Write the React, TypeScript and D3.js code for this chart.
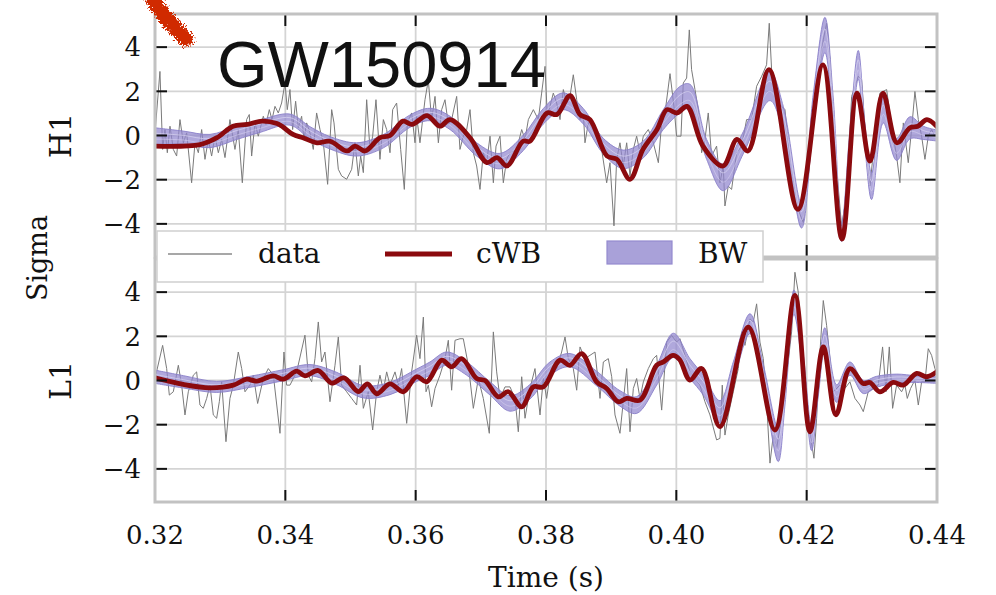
import React from "react";
import * as d3 from "d3";

// time in ms, sigma values
const TIME_TICKS = [320, 340, 360, 380, 400, 420, 440];
const SIGMA_TICKS = [-4, -2, 0, 2, 4];
const X_DOMAIN: [number, number] = [320, 440];
const Y_DOMAIN: [number, number] = [-5.5, 5.5];
const DETECTORS = ["H1", "L1"];
const LEGEND_LABELS = ["data", "cWB", "BW"];
const TITLE = "GW150914";

const H1_DATA: [number, number][] = [
  [320.0, 0.12],[320.76, 2.9],[321.17, -0.63],[321.53, 0.27],[321.89, -0.78],[322.3, 0.42],[322.81, -0.63],[323.32, -0.93],[323.83, 0.72],[324.35, -0.33],[324.86, 0.12],[325.62, -2.14],[326.14, -0.33],[326.65, -0.78],[327.16, 0.27],[327.67, -1.08],[328.18, -0.18],[328.69, -0.93],[329.2, -0.03],[329.72, -0.78],[330.23, -0.18],[330.74, -1.0],[331.5, 0.72],[332.27, -0.63],[332.78, 0.27],[333.4, -2.14],[334.06, 0.72],[334.47, 0.95],[334.83, -0.93],[335.34, 0.57],[335.85, -0.03],[336.62, 0.87],[337.03, 0.5],[337.54, 1.17],[337.95, 0.72],[338.41, 1.32],[338.92, 1.02],[339.43, 1.47],[339.95, 2.38],[340.3, 1.17],[340.71, 2.08],[341.12, 0.27],[341.58, 1.55],[341.99, 0.35],[342.5, 0.87],[342.86, -0.18],[343.27, 0.57],[343.78, 0.12],[344.29, -0.63],[344.8, 1.02],[345.32, 0.27],[345.83, -0.33],[346.49, -2.21],[347.11, 1.17],[347.47, 0.57],[348.13, -1.53],[348.64, -1.83],[349.41, -1.98],[350.18, -1.53],[350.69, -0.33],[351.2, -1.83],[351.56, -0.93],[351.97, -1.68],[352.48, 1.62],[352.99, -0.63],[353.4, -0.03],[353.91, 1.62],[354.52, -1.08],[355.04, 0.72],[355.55, 0.27],[356.06, -0.78],[356.47, 1.17],[357.08, 1.47],[357.7, -0.63],[358.26, -2.44],[358.72, 0.57],[359.38, 1.02],[359.9, -0.33],[360.15, 0.87],[360.66, -0.33],[361.43, 1.62],[361.94, 2.5],[362.45, 0.72],[362.97, 1.77],[363.48, -0.33],[363.99, 1.17],[364.5, 1.62],[365.01, 0.5],[365.52, 0.72],[366.29, 1.77],[366.8, -0.63],[367.31, -0.03],[367.83, 0.27],[368.34, 1.17],[368.85, -0.78],[369.36, -1.38],[369.87, -2.44],[370.38, -0.78],[370.89, -1.23],[371.41, -0.03],[371.92, -2.14],[372.33, -0.48],[372.94, -0.03],[373.45, -2.14],[373.96, -1.08],[374.48, -0.78],[375.5, -0.63],[376.27, 0.27],[376.78, -0.18],[377.29, 0.72],[378.06, 1.17],[378.82, 0.72],[379.33, 1.92],[379.85, 3.13],[380.2, 0.87],[380.61, 1.32],[381.12, 1.92],[381.64, 1.47],[382.15, 0.72],[382.66, 2.08],[383.17, 1.47],[383.68, 1.77],[384.19, 2.75],[384.71, 1.62],[385.22, 0.72],[385.73, 1.02],[385.98, -0.33],[386.5, 0.57],[387.01, 0.72],[387.77, -0.03],[388.54, -0.63],[389.31, -2.14],[389.82, -1.23],[390.43, -4.09],[390.84, -1.08],[391.35, -0.33],[391.86, -1.38],[392.38, -0.33],[392.89, -1.83],[393.4, -0.63],[393.91, -0.03],[394.42, -0.78],[394.94, -0.03],[395.7, 0.27],[396.47, -0.33],[397.24, -1.23],[397.75, 0.57],[398.26, 1.02],[399.03, 2.8],[399.63, 1.32],[400.04, -0.03],[400.71, -0.03],[401.07, 2.38],[401.58, 2.6],[401.99, 4.78],[402.34, 2.98],[402.86, 2.08],[403.37, 1.17],[403.88, -0.78],[404.39, -0.18],[404.9, 1.02],[405.41, -0.93],[406.18, -0.48],[406.69, -2.14],[407.2, -1.38],[407.46, -3.19],[407.97, -2.29],[408.48, -2.44],[409.25, -0.78],[410.02, -0.48],[410.78, 0.72],[411.55, 0.72],[412.32, 2.23],[413.09, 2.68],[413.85, 3.2],[414.26, 5.08],[414.62, 2.98],[415.13, 1.77],[415.9, 1.4],[416.67, 1.17],[417.43, -1.08],[418.46, -3.19],[419.48, -3.94],[420.25, -1.83],[421.53, 1.92],[422.55, 4.33],[423.06, 5.08],[423.57, 3.43],[424.6, -1.53],[425.36, -4.09],[426.13, -2.74],[426.9, 1.77],[427.92, 2.68],[428.43, 2.53],[429.2, -0.78],[429.71, -2.29],[430.48, -0.03],[431.24, 1.92],[432.27, 2.08],[433.03, 0.42],[433.8, -0.93],[434.31, -2.14],[434.83, 0.57],[435.59, -1.23],[436.1, 0.27],[436.61, 1.99],[437.13, 0.72],[437.64, -0.03],[438.15, -1.08],[438.66, -0.03],[439.17, 0.27],[439.68, -0.03],[440.0, 0.1],
];

const H1_CWB: [number, number][] = [
  [320.0, -0.48],[326.9, -0.41],[329.51, -0.1],[331.97, 0.42],[334.12, 0.5],[336.42, 0.65],[338.72, 0.54],[339.49, 0.42],[341.18, 0.05],[342.71, -0.1],[344.86, -0.33],[346.85, -0.26],[349.46, -0.7],[350.69, -0.48],[352.22, -0.7],[354.53, -0.1],[356.06, 0.0],[358.05, 0.65],[359.44, 0.5],[361.74, 0.9],[363.73, 0.42],[365.27, 0.72],[368.34, -0.1],[370.94, -1.23],[372.48, -1.0],[374.01, -1.38],[376.47, -0.26],[377.54, -0.26],[380.15, 1.02],[381.68, 0.95],[383.68, 1.8],[385.21, 0.95],[386.75, 0.72],[389.36, -0.93],[390.89, -1.08],[392.89, -1.98],[394.88, -0.63],[397.03, 0.27],[398.56, 1.17],[400.1, 1.02],[401.63, 1.32],[404.09, -0.48],[407.16, -1.38],[409.3, -0.18],[410.99, -0.7],[414.21, 2.98],[418.66, -3.34],[422.5, 3.2],[425.42, -4.69],[427.72, 1.92],[429.71, -1.16],[431.71, 1.92],[433.86, -0.33],[435.85, 0.35],[437.08, 0.42],[438.46, 0.72],[440.0, 0.4],
];

// [time, centre, half-width]
const H1_BW: [number, number, number][] = [
  [320.0, -0.03, 0.38],[324.35, -0.1, 0.3],[328.44, -0.25, 0.3],[332.53, 0.12, 0.3],[336.11, 0.42, 0.28],[340.71, 0.72, 0.25],[343.78, 0.12, 0.28],[346.85, -0.33, 0.28],[350.94, -0.63, 0.3],[355.04, -0.26, 0.3],[359.13, 0.65, 0.28],[362.2, 0.95, 0.28],[365.27, 0.57, 0.3],[369.36, -0.63, 0.3],[372.94, -1.16, 0.35],[376.52, -0.33, 0.35],[379.59, 0.87, 0.35],[382.66, 1.55, 0.38],[385.73, 0.87, 0.35],[388.8, -0.48, 0.35],[391.86, -1.08, 0.42],[394.94, -0.63, 0.38],[398.0, 0.72, 0.45],[400.55, 1.62, 0.6],[402.09, 1.77, 0.55],[404.65, -0.63, 0.45],[407.2, -1.9, 0.6],[410.27, -0.33, 0.5],[414.36, 2.23, 0.65],[416.41, 0.72, 0.6],[419.22, -3.64, 0.55],[421.01, 1.17, 0.7],[422.8, 4.55, 0.8],[424.08, 1.0, 0.7],[425.36, -4.4, 0.4],[426.64, -0.33, 0.6],[427.92, 3.2, 0.65],[428.94, 0.0, 0.55],[429.97, -2.3, 0.6],[431.76, 1.17, 0.6],[433.8, -0.63, 0.5],[435.85, 0.35, 0.5],[437.9, 0.12, 0.3],[440.0, 0.0, 0.25],
];

const L1_DATA: [number, number][] = [
  [320.0, 0.09],[321.17, 1.59],[321.79, 0.54],[322.2, -0.66],[322.81, -0.51],[323.58, 0.69],[324.09, -0.21],[324.6, -1.56],[325.11, -0.51],[325.88, 0.24],[326.39, 0.39],[326.9, -1.11],[327.41, -1.26],[327.93, -0.81],[328.44, -0.21],[328.95, -1.56],[329.46, -1.71],[329.87, -0.96],[330.23, -0.06],[330.89, -2.77],[331.5, -0.81],[332.02, -0.21],[332.78, 1.29],[333.3, 0.54],[333.81, -0.51],[334.57, -0.21],[335.09, 0.24],[335.75, -1.04],[336.62, 0.09],[337.39, 0.54],[338.16, 0.24],[339.18, -2.39],[339.79, 1.29],[340.2, -0.21],[340.71, -0.21],[341.74, 0.39],[343.01, 2.05],[343.53, 0.24],[344.04, -0.06],[344.55, 0.99],[345.06, 2.65],[345.57, 0.84],[346.08, 1.29],[346.85, -0.96],[347.62, 0.69],[348.13, 1.97],[348.64, -0.21],[349.41, -0.51],[350.18, -0.81],[350.94, -1.11],[351.46, 0.69],[351.97, -1.26],[352.73, -0.51],[353.4, -2.24],[354.01, -0.51],[354.52, 0.24],[355.04, -0.44],[355.55, 0.39],[356.06, -0.21],[356.83, 0.39],[357.34, -0.21],[357.85, 0.54],[358.62, -1.94],[359.38, 0.39],[360.15, 2.05],[360.66, 0.99],[361.18, 2.87],[361.59, -0.51],[361.94, -0.21],[362.45, -1.19],[362.97, -0.36],[363.73, 0.24],[364.5, 0.99],[365.01, 1.82],[365.52, -0.44],[366.04, 1.82],[366.8, 1.89],[367.31, 1.89],[368.08, 0.69],[368.85, -1.26],[369.62, 0.09],[370.38, -0.81],[371.3, -2.39],[371.92, 2.2],[372.43, 0.39],[372.94, -0.81],[373.71, -0.29],[374.48, -0.29],[375.24, -0.81],[375.75, -2.32],[376.27, 0.17],[376.78, -1.71],[377.54, -0.36],[378.31, 0.54],[379.08, -1.56],[379.59, 0.09],[380.1, -0.81],[380.61, 0.24],[381.64, 0.54],[382.4, 1.29],[382.92, 1.97],[383.43, 0.99],[384.19, 0.54],[384.71, -0.44],[385.22, 1.52],[385.98, 0.99],[386.75, 1.14],[387.52, 1.29],[388.29, -0.81],[388.8, 0.84],[389.56, 0.99],[390.08, 0.17],[390.59, -1.56],[391.35, -2.39],[391.86, -0.96],[392.38, 0.54],[392.89, -2.32],[393.4, -0.36],[393.91, 0.09],[394.42, -0.81],[394.94, -0.06],[395.7, 0.54],[396.47, 0.99],[396.98, 1.14],[397.75, -1.34],[398.52, 1.74],[399.28, 2.04],[400.04, 1.74],[400.55, 1.89],[401.32, 1.14],[402.09, 0.39],[402.86, 0.09],[403.62, -0.21],[404.39, -0.96],[405.16, -1.56],[406.18, -2.69],[406.69, -2.62],[407.05, -0.21],[407.46, -2.47],[407.97, -1.56],[408.74, -0.51],[409.51, 0.54],[410.02, 2.2],[410.53, 1.59],[411.3, 2.79],[411.81, 2.65],[412.32, 3.47],[412.83, 1.74],[413.34, 0.99],[413.85, -0.96],[414.37, -3.74],[414.88, -2.47],[415.39, -3.07],[416.15, -1.71],[416.92, 0.24],[417.69, 2.2],[418.2, 4.9],[418.71, 4.0],[419.22, 1.74],[419.99, -0.96],[420.5, -2.39],[421.12, -3.52],[421.53, -1.71],[422.04, 1.29],[422.55, 3.62],[423.06, 2.5],[423.57, 0.99],[424.08, -0.51],[425.11, -0.21],[425.87, -0.36],[426.64, -0.06],[427.41, -0.81],[428.18, -1.11],[428.69, -1.41],[429.45, -0.51],[430.22, -0.36],[430.99, -0.21],[431.65, 1.52],[432.17, -0.51],[432.68, 1.52],[433.19, -1.26],[433.8, -0.21],[434.57, -0.51],[435.08, -0.21],[435.44, -0.81],[435.95, -0.36],[436.61, 0.02],[437.13, -1.11],[437.64, -0.06],[438.15, -0.06],[438.66, 1.44],[439.17, 1.14],[439.68, 0.54],[440.0, 0.3],
];

const L1_CWB: [number, number][] = [
  [320.0, 0.12],[324.35, -0.18],[328.44, -0.33],[332.02, -0.21],[334.06, 0.06],[335.6, -0.03],[338.16, 0.21],[339.69, 0.06],[341.74, 0.42],[343.01, 0.21],[345.06, 0.45],[347.11, -0.12],[349.0, 0.12],[351.2, -0.5],[352.6, -0.15],[354.01, -0.6],[356.06, -0.15],[358.1, -0.51],[360.15, 0.17],[361.69, -0.06],[364.0, 0.92],[365.52, 0.62],[367.06, 0.99],[369.36, 0.09],[370.64, 0.0],[372.68, -0.74],[374.22, -0.51],[376.27, -1.19],[378.06, -0.29],[379.59, -0.29],[382.15, 0.92],[383.68, 0.69],[385.47, 1.22],[387.77, -0.06],[389.31, -0.36],[391.1, -0.96],[392.38, -0.81],[394.42, -0.89],[396.98, 0.69],[398.0, 0.84],[399.5, 1.14],[400.5, 0.95],[402.09, 0.02],[403.88, 0.54],[406.69, -2.09],[411.04, 2.42],[415.13, -2.24],[418.2, 3.85],[420.5, -2.32],[422.55, 1.52],[424.49, -1.56],[426.64, 0.54],[428.69, -0.14],[429.71, -0.09],[431.24, -0.51],[433.29, -0.09],[434.83, -0.21],[436.87, 0.32],[438.41, 0.17],[440.0, 0.4],
];

const L1_BW: [number, number, number][] = [
  [320.0, 0.17, 0.3],[324.35, -0.06, 0.28],[329.46, -0.29, 0.25],[334.57, -0.06, 0.25],[339.69, 0.24, 0.25],[343.78, 0.47, 0.25],[347.87, 0.09, 0.28],[351.97, -0.51, 0.28],[356.06, -0.36, 0.28],[360.15, 0.24, 0.28],[362.2, 0.54, 0.3],[364.76, 0.99, 0.3],[367.83, 0.54, 0.3],[371.41, -0.36, 0.3],[374.48, -1.04, 0.35],[377.54, -0.51, 0.33],[380.61, 0.54, 0.3],[383.68, 0.92, 0.3],[387.77, 0.09, 0.33],[391.35, -0.81, 0.35],[393.91, -1.11, 0.38],[396.98, 0.24, 0.45],[399.54, 1.59, 0.55],[402.09, 0.54, 0.45],[404.14, -0.21, 0.45],[406.69, -1.41, 0.5],[408.74, 0.39, 0.45],[411.3, 2.57, 0.45],[413.34, 0.24, 0.5],[415.64, -2.92, 0.75],[416.67, -0.51, 0.6],[418.05, 3.55, 0.55],[419.48, 0.69, 0.5],[420.76, -2.62, 0.55],[421.78, -0.21, 0.5],[422.8, 1.89, 0.5],[424.6, -0.59, 0.4],[426.64, 0.54, 0.3],[428.69, -0.29, 0.3],[430.74, -0.06, 0.25],[433.8, 0.09, 0.2],[436.87, 0.06, 0.15],[440.0, 0.02, 0.15],
];

const SERIF = "'DejaVu Serif', serif";

export default function App() {
  const W = 996, H = 595;
  const left = 155, right = 937;
  const x = d3.scaleLinear().domain(X_DOMAIN).range([left, right]);
  const panels = [
    { name: DETECTORS[0], top: 14, bottom: 257, data: H1_DATA, cwb: H1_CWB, bw: H1_BW },
    { name: DETECTORS[1], top: 259, bottom: 502, data: L1_DATA, cwb: L1_CWB, bw: L1_BW },
  ];
  const tickLen = 11;

  return (
    <div style={{ position: "fixed", left: 0, top: 0 }}>
      <svg width={W} height={H} viewBox={`0 0 ${W} ${H}`} style={{ display: "block", background: "#fff" }}>
        <defs>
          {panels.map((p, i) => (
            <clipPath id={`clip${i}`} key={i}>
              <rect x={left} y={p.top} width={right - left} height={p.bottom - p.top} />
            </clipPath>
          ))}
          <filter id="rough" x="-40%" y="-40%" width="180%" height="180%">
            <feTurbulence type="fractalNoise" baseFrequency="0.55" numOctaves="3" seed="7" result="n" />
            <feDisplacementMap in="SourceGraphic" in2="n" scale="11" xChannelSelector="R" yChannelSelector="G" />
          </filter>
        </defs>

        {panels.map((p, i) => {
          const y = d3.scaleLinear().domain(Y_DOMAIN).range([p.bottom, p.top]);
          const dataLine = d3.line<[number, number]>().x((d) => x(d[0])).y((d) => y(d[1]));
          const cwbLine = d3
            .line<[number, number]>()
            .x((d) => x(d[0]))
            .y((d) => y(d[1]))
            .curve(d3.curveCatmullRom.alpha(0.5));
          const bwArea = d3
            .area<[number, number, number]>()
            .x((d) => x(d[0]))
            .y0((d) => y(d[1] - d[2]))
            .y1((d) => y(d[1] + d[2]))
            .curve(d3.curveCatmullRom.alpha(0.5));
          const bwEdge = (s: number) =>
            d3
              .line<[number, number, number]>()
              .x((d) => x(d[0]))
              .y((d) => y(d[1] + s * d[2]))
              .curve(d3.curveCatmullRom.alpha(0.5))(p.bw) || "";
          const midY = (p.top + p.bottom) / 2;
          return (
            <g key={p.name}>
              {SIGMA_TICKS.map((v) => (
                <line key={`h${v}`} x1={left} x2={right} y1={y(v)} y2={y(v)} stroke="#d4d4d4" strokeWidth={1.8} />
              ))}
              {TIME_TICKS.slice(1, -1).map((t) => (
                <line key={`v${t}`} x1={x(t)} x2={x(t)} y1={p.top} y2={p.bottom} stroke="#d4d4d4" strokeWidth={1.8} />
              ))}
              <g clipPath={`url(#clip${i})`}>
                <path d={dataLine(p.data) || ""} fill="none" stroke="#7a7a7a" strokeWidth={1} />
                <path d={bwArea(p.bw) || ""} fill="#9187cf" fillOpacity={0.72} stroke="none" />
                <path d={bwEdge(1)} fill="none" stroke="#8a80c9" strokeWidth={0.9} />
                <path d={bwEdge(-1)} fill="none" stroke="#8a80c9" strokeWidth={0.9} />
                <path d={bwEdge(0.35)} fill="none" stroke="#d9d5f1" strokeWidth={0.9} opacity={0.8} />
                <path d={bwEdge(-0.35)} fill="none" stroke="#d9d5f1" strokeWidth={0.9} opacity={0.6} />
                <path d={cwbLine(p.cwb) || ""} fill="none" stroke="#8b0a0e" strokeWidth={4.8} strokeLinejoin="round" strokeLinecap="round" />
              </g>
              {SIGMA_TICKS.map((v) => (
                <g key={`yt${v}`}>
                  <line x1={left} x2={left + tickLen + 1} y1={y(v)} y2={y(v)} stroke="#111" strokeWidth={2} />
                  <line x1={right - tickLen - 1} x2={right} y1={y(v)} y2={y(v)} stroke="#111" strokeWidth={2} />
                  <text x={141} y={y(v)} dy="0.36em" textAnchor="end" fontFamily={SERIF} fontSize={26} fill="#111">
                    {v < 0 ? `\u2212${Math.abs(v)}` : `${v}`}
                  </text>
                </g>
              ))}
              {TIME_TICKS.slice(1, -1).map((t) => (
                <g key={`xt${t}`}>
                  <line x1={x(t)} x2={x(t)} y1={p.top} y2={p.top + tickLen + 1} stroke="#111" strokeWidth={2} />
                  <line x1={x(t)} x2={x(t)} y1={p.bottom - tickLen - 1} y2={p.bottom} stroke="#111" strokeWidth={2} />
                </g>
              ))}
              <rect x={left} y={p.top} width={right - left} height={p.bottom - p.top} fill="none" stroke="#c2c2c2" strokeWidth={3} />
              <text
                transform={`translate(71,${midY}) rotate(-90)`}
                textAnchor="middle"
                fontFamily={SERIF}
                fontSize={30}
                fill="#111"
              >
                {p.name}
              </text>
            </g>
          );
        })}

        {TIME_TICKS.map((t) => (
          <text key={t} x={x(t)} y={544} textAnchor="middle" fontFamily={SERIF} fontSize={26} fill="#111">
            {(t / 1000).toFixed(2)}
          </text>
        ))}
        <text x={546} y={587} textAnchor="middle" fontFamily={SERIF} fontSize={28} fill="#111">
          Time (s)
        </text>
        <text transform="translate(47,258) rotate(-90)" textAnchor="middle" fontFamily={SERIF} fontSize={27} fill="#111">
          Sigma
        </text>

        <g>
          <rect x={157} y={231} width={606} height={51} fill="#fff" stroke="#cfcfcf" strokeWidth={1.5} />
          <line x1={168} x2={232} y1={254} y2={254} stroke="#8a8a8a" strokeWidth={1.3} />
          <text x={258} y={263} fontFamily={SERIF} fontSize={28} fill="#111">{LEGEND_LABELS[0]}</text>
          <line x1={385} x2={452} y1={254} y2={254} stroke="#8b0a0e" strokeWidth={4.8} />
          <text x={476} y={263} fontFamily={SERIF} fontSize={28} fill="#111">{LEGEND_LABELS[1]}</text>
          <rect x={607} y={241} width={65} height={23} fill="#a9a1d9" stroke="#958bcf" strokeWidth={1.2} />
          <text x={698} y={263} fontFamily={SERIF} fontSize={28} fill="#111">{LEGEND_LABELS[2]}</text>
        </g>

        <text x={217} y={87} fontFamily="'Liberation Sans', Arial, sans-serif" fontSize={65} fill="#111">
          {TITLE}
        </text>
        <g filter="url(#rough)">
          <path
            d="M152,-4 L158,8 L167,19 L177,30 L186,39"
            fill="none"
            stroke="#d02a06"
            strokeWidth={15}
            strokeLinecap="round"
          />
        </g>
      </svg>
    </div>
  );
}
